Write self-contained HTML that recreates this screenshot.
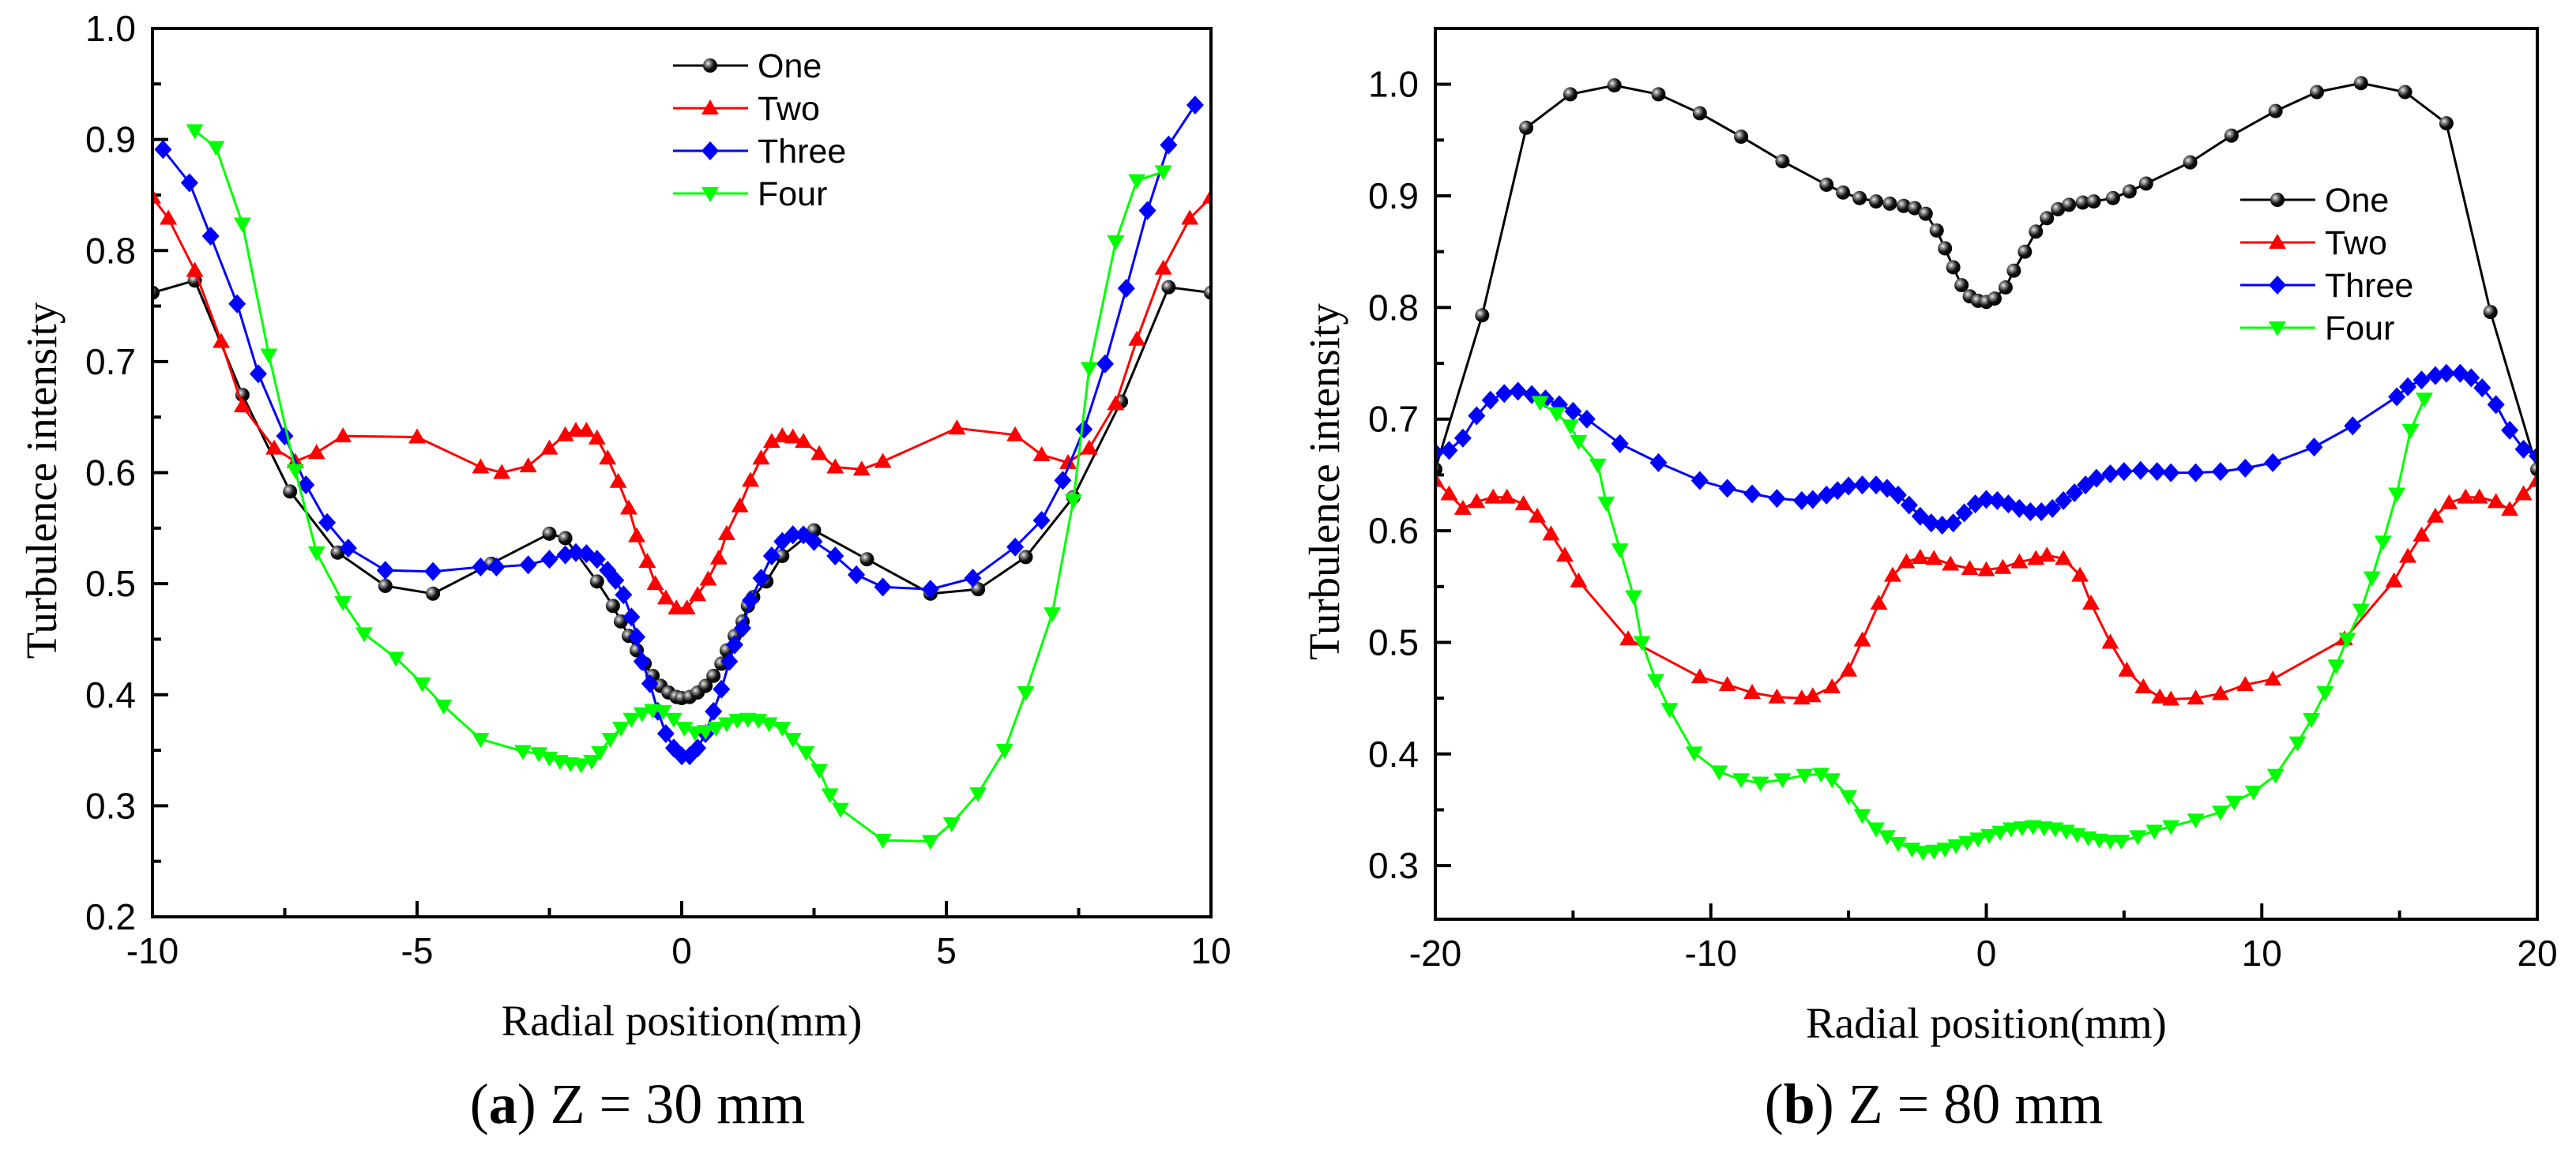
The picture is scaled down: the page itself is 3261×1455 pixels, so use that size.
<!DOCTYPE html>
<html><head><meta charset="utf-8"><style>
html,body{margin:0;padding:0;background:#fff;}
svg{display:block;}
</style></head><body>
<svg id="fig" width="3261" height="1455" viewBox="0 0 3261 1455" xmlns="http://www.w3.org/2000/svg" font-family="'Liberation Sans', Arial, sans-serif">
<defs>
<radialGradient id="ball" cx="0.35" cy="0.35" r="0.7">
<stop offset="0" stop-color="#eee"/><stop offset="0.25" stop-color="#888"/><stop offset="0.6" stop-color="#111"/><stop offset="1" stop-color="#000"/>
</radialGradient>
</defs>
</svg>
<script>
// ---------- Panel (a) data ----------
const aOneX=[-10,-9.2,-8.3,-7.4,-6.5,-5.6,-4.7,-3.6,-2.5,-2.2,-1.6,-1.3,-1.15,-1.0,-0.85,-0.7,-0.55,-0.4,-0.25,-0.1,0,0.15,0.3,0.45,0.6,0.75,0.85,1.0,1.15,1.25,1.35,1.6,1.9,2.5,3.5,4.7,5.6,6.5,7.4,8.3,9.2,10];
const aOneY=[0.762,0.773,0.67,0.583,0.528,0.498,0.491,0.518,0.545,0.541,0.502,0.48,0.466,0.453,0.44,0.428,0.417,0.408,0.402,0.398,0.397,0.398,0.402,0.408,0.417,0.428,0.44,0.453,0.466,0.48,0.488,0.502,0.525,0.548,0.522,0.491,0.495,0.524,0.578,0.664,0.767,0.762];
const aTwoX=[-10,-9.7,-9.2,-8.7,-8.3,-7.7,-7.3,-6.9,-6.4,-5.0,-3.8,-3.4,-2.9,-2.5,-2.2,-2.0,-1.8,-1.6,-1.4,-1.2,-1.0,-0.85,-0.65,-0.5,-0.3,-0.1,0.1,0.3,0.5,0.7,0.85,1.1,1.3,1.5,1.7,1.9,2.1,2.3,2.6,2.9,3.4,3.8,5.2,6.3,6.8,7.3,7.7,8.2,8.6,9.1,9.6,10];
const aTwoY=[0.848,0.829,0.782,0.718,0.66,0.622,0.61,0.618,0.633,0.632,0.605,0.6,0.606,0.622,0.634,0.638,0.638,0.631,0.613,0.592,0.568,0.543,0.52,0.5,0.487,0.478,0.478,0.49,0.504,0.523,0.545,0.57,0.593,0.613,0.628,0.633,0.632,0.628,0.617,0.605,0.603,0.61,0.64,0.634,0.616,0.609,0.622,0.662,0.72,0.784,0.829,0.848];
const aThreeX=[-9.8,-9.3,-8.9,-8.4,-8.0,-7.5,-7.1,-6.7,-6.3,-5.6,-4.7,-3.8,-3.5,-2.9,-2.5,-2.2,-2.0,-1.8,-1.6,-1.4,-1.25,-1.1,-0.95,-0.85,-0.75,-0.6,-0.45,-0.3,-0.15,0,0.15,0.3,0.45,0.6,0.75,0.9,1.0,1.15,1.3,1.5,1.7,1.9,2.1,2.3,2.5,2.9,3.3,3.8,4.7,5.5,6.3,6.8,7.2,7.6,8.0,8.4,8.8,9.2,9.7];
const aThreeY=[0.891,0.861,0.813,0.752,0.689,0.633,0.589,0.555,0.532,0.512,0.511,0.515,0.515,0.517,0.522,0.526,0.528,0.527,0.522,0.512,0.503,0.49,0.47,0.452,0.43,0.41,0.385,0.365,0.352,0.345,0.345,0.352,0.365,0.385,0.405,0.43,0.445,0.46,0.485,0.505,0.525,0.538,0.544,0.544,0.538,0.525,0.508,0.497,0.495,0.505,0.533,0.557,0.593,0.639,0.698,0.766,0.836,0.895,0.931];
const aFourX=[-9.2,-8.8,-8.3,-7.8,-7.3,-6.9,-6.4,-6.0,-5.4,-4.9,-4.5,-3.8,-3.0,-2.7,-2.5,-2.3,-2.1,-1.9,-1.7,-1.55,-1.35,-1.15,-0.95,-0.75,-0.55,-0.35,-0.15,0.05,0.25,0.45,0.65,0.85,1.05,1.25,1.45,1.65,1.9,2.1,2.35,2.6,2.8,3.0,3.8,4.7,5.1,5.6,6.1,6.5,7.0,7.4,7.7,8.2,8.6,9.1];
const aFourY=[0.908,0.893,0.824,0.706,0.602,0.528,0.483,0.455,0.433,0.41,0.39,0.36,0.349,0.347,0.343,0.34,0.338,0.337,0.34,0.348,0.36,0.37,0.378,0.383,0.386,0.385,0.378,0.37,0.366,0.367,0.37,0.374,0.377,0.378,0.377,0.374,0.37,0.36,0.348,0.332,0.31,0.297,0.269,0.268,0.284,0.311,0.35,0.402,0.473,0.575,0.694,0.808,0.863,0.871];
// ---------- Panel (b) data ----------
const bOneX=[-20,-18.3,-16.7,-15.1,-13.5,-11.9,-10.4,-8.9,-7.4,-5.8,-5.2,-4.6,-4.0,-3.5,-3.0,-2.6,-2.2,-1.8,-1.5,-1.2,-0.9,-0.6,-0.3,0,0.3,0.7,1.0,1.4,1.8,2.2,2.6,3.0,3.5,3.9,4.6,5.2,5.8,7.4,8.9,10.5,12.0,13.6,15.2,16.7,18.3,20];
const bOneY=[0.655,0.793,0.961,0.991,0.999,0.991,0.974,0.953,0.931,0.91,0.903,0.898,0.895,0.893,0.891,0.889,0.884,0.869,0.853,0.836,0.82,0.81,0.806,0.805,0.808,0.818,0.833,0.85,0.868,0.88,0.888,0.892,0.894,0.895,0.898,0.904,0.911,0.93,0.954,0.976,0.993,1.001,0.993,0.965,0.796,0.655];
const bTwoX=[-20,-19.5,-19.0,-18.5,-17.9,-17.4,-16.8,-16.3,-15.8,-15.3,-14.8,-13.0,-10.4,-9.4,-8.5,-7.6,-6.7,-6.3,-5.6,-5.0,-4.5,-3.9,-3.4,-2.9,-2.4,-1.9,-1.3,-0.6,0,0.6,1.2,1.8,2.2,2.8,3.4,3.8,4.5,5.1,5.7,6.3,6.7,7.6,8.5,9.4,10.4,13.0,14.8,15.3,15.8,16.3,16.8,17.4,17.9,18.5,19.0,19.5,20];
const bTwoY=[0.645,0.633,0.62,0.626,0.63,0.63,0.624,0.613,0.597,0.578,0.555,0.503,0.469,0.462,0.455,0.451,0.45,0.452,0.46,0.475,0.502,0.535,0.56,0.572,0.576,0.575,0.57,0.566,0.565,0.567,0.572,0.575,0.578,0.575,0.56,0.535,0.5,0.475,0.46,0.451,0.449,0.45,0.454,0.462,0.467,0.503,0.555,0.577,0.596,0.613,0.625,0.63,0.63,0.626,0.619,0.633,0.645];
const bThreeX=[-20,-19.5,-19.0,-18.5,-18.0,-17.5,-17.0,-16.5,-16.0,-15.5,-15.0,-14.5,-13.3,-11.9,-10.4,-9.4,-8.5,-7.6,-6.7,-6.3,-5.8,-5.4,-5.0,-4.5,-4.0,-3.6,-3.2,-2.8,-2.4,-2.0,-1.6,-1.2,-0.8,-0.4,0,0.4,0.8,1.2,1.6,2.0,2.4,2.8,3.2,3.6,4.0,4.5,5.0,5.6,6.2,6.7,7.6,8.5,9.4,10.4,11.9,13.3,14.9,15.3,15.8,16.3,16.7,17.2,17.6,18.0,18.5,19.0,19.5,20];
const bThreeY=[0.67,0.672,0.683,0.703,0.717,0.723,0.725,0.722,0.718,0.713,0.707,0.7,0.678,0.661,0.645,0.638,0.633,0.629,0.627,0.628,0.632,0.636,0.64,0.641,0.641,0.638,0.632,0.623,0.613,0.607,0.605,0.607,0.616,0.624,0.628,0.627,0.624,0.62,0.617,0.617,0.62,0.627,0.634,0.641,0.647,0.651,0.653,0.654,0.653,0.652,0.652,0.653,0.656,0.661,0.675,0.694,0.72,0.729,0.735,0.739,0.741,0.741,0.737,0.728,0.713,0.69,0.673,0.667];
const bFourX=[-16.2,-15.6,-15.1,-14.8,-14.1,-13.8,-13.3,-12.8,-12.5,-12.0,-11.5,-10.6,-9.7,-8.9,-8.2,-7.4,-6.6,-6.0,-5.6,-5.0,-4.5,-4.0,-3.6,-3.2,-2.7,-2.3,-1.9,-1.5,-1.1,-0.7,-0.3,0.1,0.5,0.9,1.3,1.7,2.1,2.5,2.9,3.3,3.7,4.1,4.5,4.9,5.5,6.1,6.7,7.6,8.5,9.0,9.7,10.5,11.3,11.8,12.3,12.7,13.1,13.6,14.0,14.4,14.9,15.4,15.9];
const bFourY=[0.715,0.705,0.694,0.68,0.659,0.625,0.583,0.541,0.5,0.466,0.44,0.401,0.384,0.377,0.374,0.377,0.381,0.382,0.377,0.362,0.345,0.333,0.326,0.32,0.315,0.312,0.313,0.315,0.318,0.321,0.324,0.327,0.33,0.333,0.334,0.335,0.334,0.333,0.331,0.328,0.325,0.323,0.322,0.322,0.326,0.331,0.335,0.341,0.348,0.357,0.366,0.381,0.41,0.431,0.455,0.479,0.503,0.529,0.558,0.59,0.633,0.69,0.718];
const seriesNames=["One","Two","Three","Four"];
const aXTicks=["-10","-5","0","5","10"];
const aYTicks=["0.2","0.3","0.4","0.5","0.6","0.7","0.8","0.9","1.0"];
const bXTicks=["-20","-10","0","10","20"];
const bYTicks=["0.3","0.4","0.5","0.6","0.7","0.8","0.9","1.0"];

const NS="http://www.w3.org/2000/svg";
const svg=document.getElementById('fig');
function mk(tag,attrs,parent){const e=document.createElementNS(NS,tag);for(const k in attrs)e.setAttribute(k,attrs[k]);(parent||svg).appendChild(e);return e;}
const colors=["#000","#f00","#00f","#0f0"];

function marker(g,kind,x,y){
  let e;
  if(kind===0){e=mk('circle',{cx:x,cy:y,r:9,fill:'url(#ball)'},g);}
  else if(kind===1){e=mk('polygon',{points:`${x},${y-11} ${x-11},${y+8} ${x+11},${y+8}`,fill:'#f00'},g);}
  else if(kind===2){e=mk('polygon',{points:`${x},${y-12} ${x+11},${y} ${x},${y+12} ${x-11},${y}`,fill:'#00f'},g);}
  else {e=mk('polygon',{points:`${x-11},${y-8} ${x+11},${y-8} ${x},${y+11}`,fill:'#0f0'},g);}
  
  
}

function panel(p){
  const g=mk('g',{});
  
  
  const sx=v=>p.L+(v-p.x0)/(p.x1-p.x0)*(p.R-p.L);
  const sy=v=>p.B-(v-p.y0)/(p.y1-p.y0)*(p.B-p.T);
  // minor/major ticks
  const tg=mk('g',{stroke:'#000','stroke-width':4},g);
  
  
  for(let v=p.x0;v<=p.x1+1e-9;v+=p.xMinor){
    const major=Math.abs(Math.round(v/p.xMajor)*p.xMajor-v)<1e-6;
    mk('line',{x1:sx(v),x2:sx(v),y1:p.B,y2:p.B-(major?20:11)},tg);
  }
  let start=Math.ceil(p.y0/0.05-1e-6)*0.05;
  for(let v=start;v<=p.y1+1e-9;v+=0.05){
    const major=Math.abs(Math.round(v*10)/10-v)<1e-6;
    mk('line',{x1:p.L,x2:p.L+(major?20:11),y1:sy(v),y2:sy(v)},tg);
  }
  // tick labels
  p.xt.forEach(t=>{const e=mk('text',{x:sx(+t),y:p.B+59,'font-size':46,'text-anchor':'middle'},g);e.textContent=t;
    });
  p.yt.forEach(t=>{const e=mk('text',{x:p.L-21,y:sy(+t)+16,'font-size':46,'text-anchor':'end'},g);e.textContent=t;
    });
  // clip
  const cid='clip'+p.id;
  const cp=mk('clipPath',{id:cid},g);mk('rect',{x:p.L,y:p.T,width:p.R-p.L,height:p.B-p.T},cp);
  const dg=mk('g',{'clip-path':`url(#${cid})`},g);
  p.series.forEach((s,i)=>{
    const sg=mk('g',{},dg);
    
    
    const pts=s[0].map((x,k)=>sx(x).toFixed(1)+','+sy(s[1][k]).toFixed(1)).join(' ');
    const pl=mk('polyline',{points:pts,fill:'none',stroke:colors[i],'stroke-width':3},sg);
    
    
    s[0].forEach((x,k)=>marker(sg,i,sx(x),sy(s[1][k])));
  });
  // frame
  const fr=mk('rect',{x:p.L,y:p.T,width:p.R-p.L,height:p.B-p.T,fill:'none',stroke:'#000','stroke-width':4},g);
  
  // titles
  const yt=mk('text',{x:0,y:0,'font-size':55,'font-family':"'Liberation Serif', serif",'text-anchor':'middle',transform:`translate(${p.L-122},${(p.T+p.B)/2+10}) rotate(-90)`},g);
  yt.textContent='Turbulence intensity';
  const xt=mk('text',{x:(p.L+p.R)/2,y:p.B+150,'font-size':55,'font-family':"'Liberation Serif', serif",'text-anchor':'middle'},g);
  xt.textContent='Radial position(mm)';
  const cap=mk('text',{x:p.capX,y:1422,'font-size':72,'font-family':"'Liberation Serif', serif",'text-anchor':'middle'},g);
  cap.innerHTML=`(<tspan font-weight="bold">${p.letter}</tspan>) Z = ${p.z} mm`;
  
  // legend
  const lg=mk('g',{},g);
  
  seriesNames.forEach((n,i)=>{
    const y=p.legY+i*54;
    const eg=mk('g',{},lg);
    
    mk('line',{x1:p.legX,x2:p.legX+95,y1:y,y2:y,stroke:colors[i],'stroke-width':3},eg);
    marker(eg,i,p.legX+47,y);
    const t=mk('text',{x:p.legX+107,y:y+15,'font-size':43},eg);t.textContent=n;
    
  });
}
panel({id:'a',name:'chart-a',L:193,R:1533,T:36,B:1161,x0:-10,x1:10,y0:0.2,y1:1.0,xMajor:5,xMinor:2.5,
  xt:aXTicks,yt:aYTicks,series:[[aOneX,aOneY],[aTwoX,aTwoY],[aThreeX,aThreeY],[aFourX,aFourY]],
  capX:807,letter:'a',z:30,legX:852,legY:83});
panel({id:'b',name:'chart-b',L:1817,R:3212,T:36,B:1164,x0:-20,x1:20,y0:0.252,y1:1.05,xMajor:10,xMinor:5,
  xt:bXTicks,yt:bYTicks,series:[[bOneX,bOneY],[bTwoX,bTwoY],[bThreeX,bThreeY],[bFourX,bFourY]],
  capX:2448,letter:'b',z:80,legX:2836,legY:253});
</script>
</body></html>
